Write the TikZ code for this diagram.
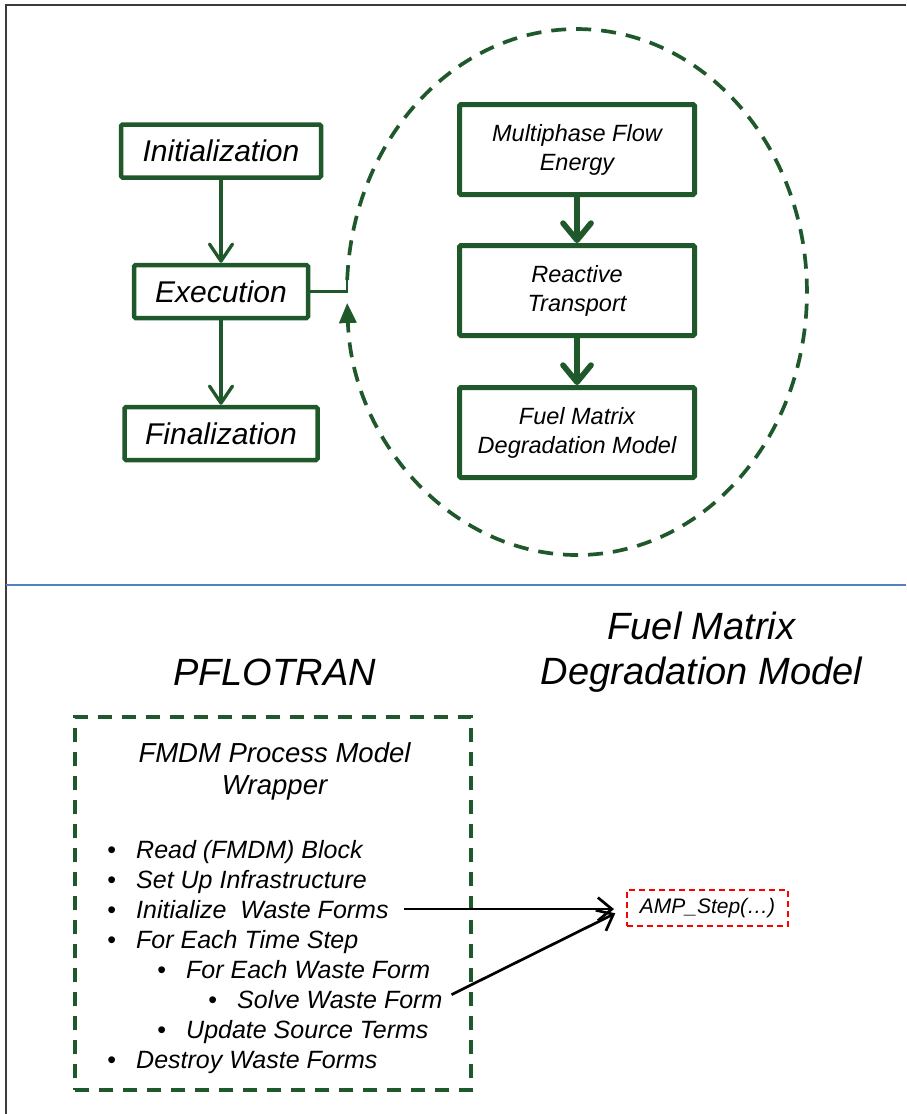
\documentclass[tikz,border=0pt]{standalone}
\usepackage{fontspec}
\setmainfont{Liberation Sans}
\usetikzlibrary{arrows.meta}
\definecolor{dkgreen}{RGB}{31,88,42}
\definecolor{framec}{RGB}{60,60,60}
\definecolor{sepblue}{RGB}{79,129,189}
\newcommand{\bl}{\llap{{\upshape\textbullet}\hspace{20pt}}}
\begin{document}
\begin{tikzpicture}[x=1pt,y=-1pt,
  gbox/.style={draw=dkgreen,line width=4.5pt,rounded corners=1.5pt,fill=white,inner sep=0pt,align=center},
  topbox/.style={gbox,minimum height=53pt,font=\fontsize{30}{36}\selectfont\itshape},
  procbox/.style={gbox,line width=5pt,minimum width=235pt,minimum height=90pt,font=\fontsize{23.5}{29}\selectfont\itshape},
  garrow/.style={draw=dkgreen,line width=3.3pt,-{Straight Barb[length=17pt,width=23pt,round]}},
  parrow/.style={draw=dkgreen,line width=5.7pt,-{Straight Barb[length=17pt,width=28pt,round]}},
  barrow/.style={draw=black,line width=2.7pt,-{Straight Barb[length=14pt,width=23pt]}},
  listitem/.style={anchor=base west,inner sep=0pt,font=\fontsize{25}{30}\selectfont\itshape},
  heading/.style={font=\fontsize{38}{45}\selectfont\itshape,inner sep=0pt,align=center},
]
\useasboundingbox (0,0) rectangle (906,1114);
% frame and separator
\draw[framec,line width=2pt] (906,5) -- (6,5) -- (6,1114);
\draw[sepblue,line width=1.5pt] (6,585) -- (906,585);

% left column
\node[topbox,minimum width=200pt] (init) at (221,151) {Initialization};
\node[topbox,minimum width=174pt] (exec) at (221,291.5) {Execution};
\node[topbox,minimum width=193pt] (fin) at (221,433.5) {Finalization};
\draw[garrow] (init) -- (exec);
\draw[garrow] (exec) -- (fin);

% dashed loop
\coordinate (ellstart) at (347.2,280.1);
\draw[dkgreen,line width=3.7pt,dash pattern=on 15pt off 10pt,-{Triangle[length=20pt,width=17pt]}]
  (ellstart) arc[start angle=177.4,end angle=-177.6,x radius=230pt,y radius=263pt];
\draw[dkgreen,line width=2.5pt] (exec.east) -| (ellstart);

% process boxes
\node[procbox] (mfe) at (577,149.5) {Multiphase Flow\\Energy};
\node[procbox] (rt) at (577,290.5) {Reactive\\Transport};
\node[procbox] (fmdm) at (577,432.5) {Fuel Matrix\\Degradation Model};
\draw[parrow] (mfe) -- (rt);
\draw[parrow] (rt) -- (fmdm);

% bottom headings
\node[heading,anchor=base] (pfl) at (274.5,685) {PFLOTRAN};
\node[heading,anchor=north] (fmh) at (701.5,612) {Fuel Matrix\\Degradation Model};

% wrapper box
\node[draw=dkgreen,line width=3.7pt,dash pattern=on 14pt off 10pt,minimum width=396pt,minimum height=373pt,inner sep=0pt] (wrap) at (273,903.5) {};
\node[anchor=north,align=center,inner sep=0pt,font=\fontsize{27.5}{32}\selectfont\itshape] (wtitle) at (274.5,742) {FMDM Process Model\\Wrapper};

\node[listitem] (l1) at (136,858) {\bl Read (FMDM) Block};
\node[listitem] (l2) at (136,888) {\bl Set Up Infrastructure};
\node[listitem] (l3) at (136,918) {\bl Initialize~ Waste Forms};
\node[listitem] (l4) at (136,948) {\bl For Each Time Step};
\node[listitem] (l5) at (186,978) {\bl For Each Waste Form};
\node[listitem] (l6) at (237,1008) {\bl Solve Waste Form};
\node[listitem] (l7) at (186,1038) {\bl Update Source Terms};
\node[listitem] (l8) at (136,1068) {\bl Destroy Waste Forms};

% AMP step
\node[draw=red,line width=2pt,dash pattern=on 6pt off 4pt,minimum width=161pt,minimum height=36pt,inner sep=0pt,font=\fontsize{21}{25}\selectfont\itshape] (amp) at (707.5,908) {AMP\_Step(…)};

\draw[barrow,shorten <=15pt,shorten >=12pt] (l3.east) -- (l3.east -| amp.west);
\draw[barrow,shorten <=10pt,shorten >=12pt] (l6.east) -- (amp.west);
\end{tikzpicture}
\end{document}
